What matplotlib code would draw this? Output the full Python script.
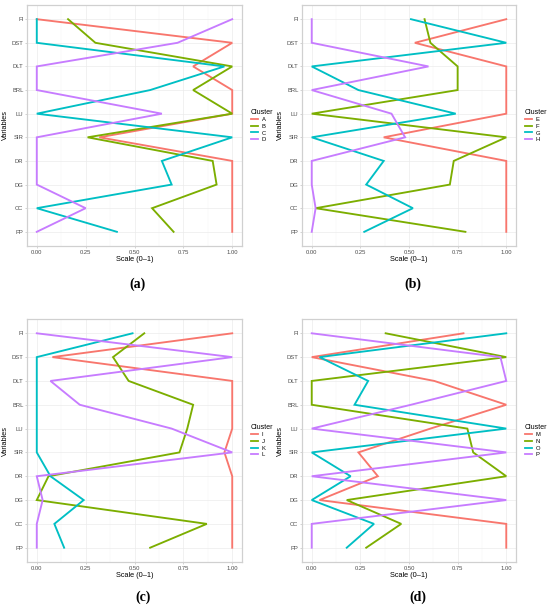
import matplotlib
matplotlib.use("Agg")
import matplotlib.pyplot as plt
import numpy as np
from matplotlib.ticker import FixedLocator

plt.rcParams['font.family'] = ['Liberation Sans', 'DejaVu Sans']

variables = ["FI", "DST", "DLT", "BRL", "LU", "SIR", "DR", "DG", "CC", "PP"]
x_ticks = [0.0, 0.25, 0.5, 0.75, 1.0]
x_tick_labels = ["0.00", "0.25", "0.50", "0.75", "1.00"]

# panel (a)
clusters_a = ["A", "B", "C", "D"]
A = [0.00, 1.00, 0.80, 1.00, 1.00, 0.32, 1.00, 1.00, 1.00, 1.00]
B = [0.16, 0.30, 1.00, 0.80, 1.00, 0.26, 0.90, 0.92, 0.59, 0.70]
C = [0.00, 0.00, 0.96, 0.58, 0.00, 1.00, 0.64, 0.69, 0.00, 0.41]
D = [1.00, 0.72, 0.00, 0.00, 0.64, 0.00, 0.00, 0.00, 0.25, 0.00]

# panel (b)
clusters_b = ["E", "F", "G", "H"]
E = [1.00, 0.53, 1.00, 1.00, 1.00, 0.37, 1.00, 1.00, 1.00, 1.00]
F = [0.58, 0.61, 0.75, 0.75, 0.00, 1.00, 0.73, 0.71, 0.02, 0.79]
G = [0.51, 1.00, 0.00, 0.24, 0.74, 0.00, 0.37, 0.28, 0.52, 0.27]
H = [0.00, 0.00, 0.60, 0.00, 0.41, 0.48, 0.00, 0.00, 0.02, 0.00]

# panel (c)
clusters_c = ["I", "J", "K", "L"]
I = [1.00, 0.08, 1.00, 1.00, 1.00, 0.96, 1.00, 1.00, 1.00, 1.00]
J = [0.55, 0.39, 0.47, 0.80, 0.77, 0.73, 0.06, 0.00, 0.87, 0.58]
K = [0.49, 0.00, 0.00, 0.00, 0.00, 0.00, 0.07, 0.24, 0.09, 0.14]
L = [0.00, 1.00, 0.07, 0.22, 0.69, 1.00, 0.00, 0.03, 0.00, 0.00]

# panel (d)
clusters_d = ["M", "N", "O", "P"]
M = [0.78, 0.00, 0.63, 1.00, 0.61, 0.24, 0.34, 0.04, 1.00, 1.00]
N = [0.38, 1.00, 0.00, 0.00, 0.80, 0.83, 1.00, 0.18, 0.46, 0.28]
O = [1.00, 0.04, 0.29, 0.22, 1.00, 0.00, 0.20, 0.00, 0.32, 0.18]
P = [0.00, 0.97, 1.00, 0.51, 0.00, 1.00, 0.00, 1.00, 0.00, 0.00]

panels = [
    ("(a)", clusters_a, [A, B, C, D]),
    ("(b)", clusters_b, [E, F, G, H]),
    ("(c)", clusters_c, [I, J, K, L]),
    ("(d)", clusters_d, [M, N, O, P]),
]

colors = ["#F8766D", "#7CAE00", "#00BFC4", "#C77CFF"]

W, H_px = 550, 607
fig = plt.figure(figsize=(W / 100, H_px / 100), dpi=100)

# axes boxes in pixels: left, top, right, bottom
boxes = [(27, 5, 242, 246), (302, 5, 516, 246),
         (27, 319, 242, 562), (302, 319, 516, 562)]
caption_pos = [(138, 284), (413, 284), (143, 597), (418, 597)]

y_pos = np.arange(len(variables))

for (caption, names, series), (l, t, r, b), (cx, cy) in zip(panels, boxes, caption_pos):
    ax = fig.add_axes([l / W, 1 - b / H_px, (r - l) / W, (b - t) / H_px])
    for name, vals, col in zip(names, series, colors):
        ax.plot(vals, y_pos, color=col, lw=1.35, label=name, solid_joinstyle='miter')

    ax.set_xlim(-0.05, 1.05)
    ax.set_ylim(len(variables) - 0.4, -0.6)
    ax.set_xticks(x_ticks)
    ax.set_xticklabels(x_tick_labels)
    ax.xaxis.set_minor_locator(FixedLocator([0.125, 0.375, 0.625, 0.875]))
    ax.set_yticks(y_pos)
    ax.set_yticklabels(variables)

    ax.grid(True, which='major', color='#EBEBEB', lw=0.5)
    ax.grid(True, which='minor', axis='x', color='#F3F3F3', lw=0.3)
    ax.set_axisbelow(True)
    for sp in ax.spines.values():
        sp.set_color('#D0D0D0')
        sp.set_linewidth(0.9)

    ax.tick_params(which='major', length=1.4, width=0.4, color='#B3B3B3',
                   labelsize=4.2, labelcolor='#4D4D4D', pad=1.2)
    ax.tick_params(which='minor', length=0)

    ax.set_xlabel("Scale (0\u20131)", fontsize=5.3, labelpad=1.2)
    ax.set_ylabel("Variables", fontsize=5.3, labelpad=1.8)

    leg = ax.legend(title="Cluster", loc='center left', bbox_to_anchor=(1.04, 0.5),
                    frameon=False, fontsize=4.2, title_fontsize=5.0,
                    borderaxespad=0, borderpad=0, handlelength=1.25,
                    handletextpad=0.7, labelspacing=0.25, alignment='left')
    for line in leg.get_lines():
        line.set_linewidth(1.3)

    fig.text(cx / W, 1 - cy / H_px, caption, ha='center', va='center',
             fontsize=10, fontweight='bold', family='Liberation Serif')

fig.savefig("out.png", dpi=100)
